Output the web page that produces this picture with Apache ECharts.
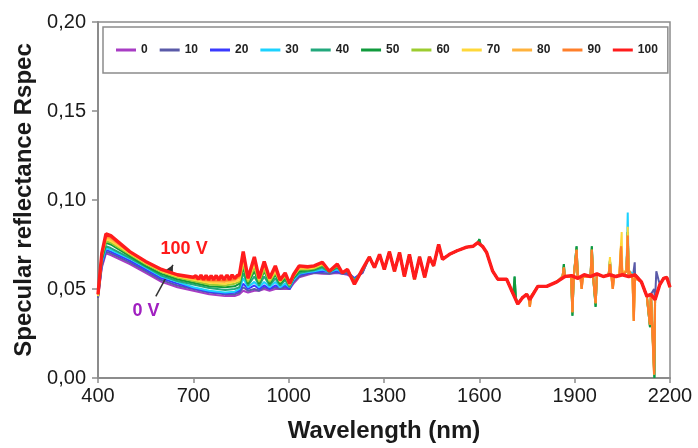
<!DOCTYPE html>
<html><head><meta charset="utf-8">
<script src="https://cdn.jsdelivr.net/npm/echarts@6/dist/echarts.min.js"></script>
<style>html,body{margin:0;padding:0;background:#fff}#c{width:698px;height:448px}</style>
</head><body><div id="c"></div>
<script>
// ---------- DATA ----------
const seriesNames = ['0','10','20','30','40','50','60','70','80','90','100'];
const xTicks = [400,700,1000,1300,1600,1900,2200];
const yTicks = ['0,00','0,05','0,10','0,15','0,20'];

// 400–1232 nm (voltage-dependent part)
const headWl = [400,412,425,440,500,550,600,650,700,750,800,830,845,857,872,892,907,923,940,958,973,989,1003,1015,1033,1060,1080,1106,1128,1153,1169,1185,1207,1232];
const head0   = [.045,.062,.070,.069,.064,.059,.054,.051,.049,.047,.046,.046,.047,.049,.048,.049,.049,.050,.049,.050,.050,.050,.050,.053,.0566,.058,.059,.0585,.0585,.059,.0585,.058,.056,.059];
const head10  = [.045,.063,.071,.070,.065,.060,.055,.052,.050,.048,.047,.047,.048,.051,.049,.050,.049,.051,.050,.051,.050,.051,.050,.054,.057,.0585,.059,.059,.0585,.0595,.0585,.0585,.056,.059];
const head20  = [.046,.064,.072,.071,.066,.061,.056,.053,.0505,.0485,.0475,.048,.049,.053,.050,.052,.050,.052,.050,.052,.051,.052,.050,.055,.058,.059,.0595,.060,.0595,.060,.059,.0595,.056,.0595];
const head30  = [.046,.065,.073,.072,.067,.062,.057,.054,.051,.049,.048,.0485,.050,.056,.051,.054,.051,.054,.051,.054,.051,.053,.051,.055,.0585,.0595,.060,.061,.0595,.061,.059,.060,.055,.060];
const head40  = [.046,.066,.074,.073,.0675,.0625,.0575,.0545,.0525,.0505,.0495,.050,.051,.059,.052,.057,.052,.057,.052,.056,.052,.055,.051,.056,.059,.060,.0605,.062,.0595,.062,.059,.060,.055,.060];
const head50  = [.046,.067,.076,.075,.0685,.063,.0585,.0555,.0535,.0515,.051,.0515,.053,.062,.053,.060,.053,.060,.053,.058,.053,.056,.052,.056,.060,.0605,.061,.063,.0598,.0625,.059,.0603,.0545,.0603];
const head60  = [.046,.068,.077,.076,.0695,.064,.0595,.0565,.0545,.0525,.052,.053,.054,.064,.054,.062,.054,.061,.054,.059,.054,.057,.052,.057,.061,.061,.0615,.0635,.0598,.063,.059,.0605,.054,.0605];
const head70  = [.046,.069,.078,.077,.070,.0645,.060,.057,.0552,.0535,.053,.054,.055,.066,.055,.064,.055,.063,.055,.060,.054,.058,.0525,.057,.0615,.0615,.062,.064,.060,.0635,.059,.0607,.0535,.0607];
const head80  = [.047,.069,.079,.078,.0705,.065,.0603,.0575,.0557,.0543,.054,.0548,.0565,.068,.0555,.066,.0555,.064,.0555,.061,.0545,.0585,.0527,.0575,.062,.062,.0625,.0645,.060,.0637,.059,.061,.053,.061];
const head90  = [.047,.070,.080,.079,.0708,.0653,.0607,.0578,.0562,.055,.0548,.0555,.0572,.0695,.056,.067,.056,.065,.056,.062,.055,.0588,.053,.058,.0625,.0622,.0628,.0648,.060,.0638,.059,.061,.0528,.061];
const head100 = [.047,.070,.081,.080,.071,.0655,.061,.058,.0566,.0555,.0555,.056,.058,.071,.056,.068,.056,.0655,.056,.063,.055,.059,.053,.058,.063,.0625,.063,.065,.060,.064,.059,.061,.0527,.061];

// small ripples of the 100 V spectrum, 700–840 nm
const ripple100 = [[708,.0575],[716,.0555],[724,.0578],[732,.0553],[740,.0576],[748,.0552],[756,.0575],[764,.0552],[772,.0576],[780,.0551],[788,.0577],[796,.0552],[806,.0578],[814,.0553],[822,.0579],[838,.0575]];

// 1254–2200 nm (common to all voltages)
const tailWl = [1254,1270,1286,1301,1317,1333,1349,1364,1380,1396,1412,1428,1443,1456,1472,1484,1506,1530,1560,1580,1595,1610,1623,1642,1658,1686,1702,1721,1735,1749,1759,1784,1812,1844,1869,1890,1910,1930,1950,1970,1990,2010,2030,2050,2070,2090,2110,2127,2140,2153,2168,2180,2190,2200];
const tailR  = [.068,.062,.0695,.061,.071,.060,.0705,.057,.0695,.0555,.068,.0566,.068,.063,.075,.0667,.0695,.0715,.0735,.074,.076,.074,.0705,.060,.0555,.0555,.049,.0415,.045,.047,.044,.0515,.0515,.054,.057,.0575,.056,.058,.057,.0585,.057,.058,.057,.058,.057,.058,.054,.046,.047,.044,.0525,.056,.0565,.051];

// noise spikes seen in individual spectra
const spikesNavy   = [[2084,.058],[2089,.065],[2094,.058],[2150,.050],[2157,.060],[2164,.055]];
const spikesCyan   = [[2063,.060],[2067,.093],[2071,.060]];
const spikesTeal   = [[1596,.076],[1600,.078],[1604,.075],[1707,.047],[1711,.057],[1715,.045],[1862,.057],[1866,.064],[1871,.057],[1889,.057],[1893,.035],[1897,.057],[1902,.057],[1906,.074],[1911,.056],[1951,.057],[1954,.074],[1958,.057],[1962,.057],[1966,.040],[1971,.058],[2007,.058],[2011,.066],[2015,.058],[2063,.060],[2067,.082],[2072,.058],[2133,.047],[2137,.0285],[2141,.047],[2146,.046],[2151,0.0],[2156,.046]];
const spikesYellow = [[2007,.058],[2011,.068],[2015,.058],[2040,.058],[2048,.082],[2055,.060],[2063,.060],[2067,.085],[2071,.060],[2082,.056],[2086,.034],[2091,.056]];
const spikesOrange = [[1755,.045],[1759,.040],[1763,.046],[1862,.057],[1866,.062],[1871,.057],[1889,.057],[1893,.037],[1897,.057],[1902,.057],[1906,.072],[1911,.056],[1918,.057],[1922,.050],[1926,.057],[1951,.057],[1954,.072],[1958,.057],[1962,.057],[1966,.042],[1971,.058],[2007,.058],[2011,.064],[2015,.058],[2017,.058],[2020,.050],[2024,.057],[2041,.058],[2046,.074],[2052,.058],[2063,.060],[2067,.080],[2072,.060],[2082,.056],[2086,.032],[2091,.056],[2133,.047],[2137,.030],[2141,.047],[2146,.046],[2150,.002],[2155,.046]];

const heads  = [head0,head10,head20,head30,head40,head50,head60,head70,head80,head90,head100];
const extras = [[],spikesNavy,[],spikesCyan,spikesTeal,spikesTeal,spikesOrange,spikesYellow,spikesOrange,spikesOrange,ripple100];

// ---------- STYLE ----------
const colors = ['#a83cc4','#5a5aa8','#3a3aff','#1cd2ff','#22a87c','#109a3c','#9ccc30','#ffd83a','#ffb23c','#ff7f2a','#ff1c1c'];
const widths = [2,2,2,2,2,2,2,2,2,2.2,3.4];
const FONT = "'Liberation Sans', Arial, sans-serif";

function build(i){
  const pts = headWl.map((w,k)=>[w, heads[i][k]])
    .concat(tailWl.map((w,k)=>[w, tailR[k]]))
    .concat(extras[i].map(p=>[p[0],p[1]]));
  pts.sort((a,b)=>a[0]-b[0]);
  return pts;
}

const series = seriesNames.map((n,i)=>{
  const s = {
    name:n, type:'line', data:build(i), showSymbol:false, symbol:'none',
    lineStyle:{color:colors[i], width:widths[i]}, itemStyle:{color:colors[i]},
    z: 2+i, animation:false
  };
  if(i===10){
    s.markLine = {silent:true, symbol:['none','arrow'], symbolSize:[7,9], animation:false,
      lineStyle:{color:'#333', width:1.5, type:'solid'}, label:{show:false},
      data:[[{coord:[582,.0458]},{coord:[636,.0635]}]]};
    s.markPoint = {silent:true, animation:false, symbol:'rect', symbolSize:1, itemStyle:{color:'rgba(0,0,0,0)'},
      data:[
        {coord:[671,.0723], label:{show:true, position:'inside', formatter:'100 V', color:'#ff1a1a', fontSize:18, fontWeight:'bold', fontFamily:FONT}},
        {coord:[551,.0375], label:{show:true, position:'inside', formatter:'0 V', color:'#a020c0', fontSize:18, fontWeight:'bold', fontFamily:FONT}}
      ]};
  }
  return s;
});

const chart = echarts.init(document.getElementById('c'), null, {renderer:'canvas'});
chart.setOption({
  animation:false,
  backgroundColor:'#fff',
  grid:{left:98, right:28, top:22, bottom:68, show:true, borderColor:'#8c8c8c', borderWidth:1.5},
  legend:{
    data:seriesNames, left:103, top:27, orient:'horizontal',
    icon:'rect', itemWidth:20, itemHeight:3, itemGap:12,
    padding:[17,10,17,13], borderColor:'#8c8c8c', borderWidth:1.5,
    textStyle:{fontSize:12, fontWeight:'bold', color:'#222', fontFamily:FONT},
    selectedMode:false
  },
  xAxis:{
    type:'value', min:xTicks[0], max:xTicks[xTicks.length-1], interval:300,
    name:'Wavelength (nm)', nameLocation:'middle', nameGap:41,
    nameTextStyle:{fontSize:24, fontWeight:'bold', color:'#1a1a1a', fontFamily:FONT},
    axisLine:{lineStyle:{color:'#8c8c8c', width:2}},
    axisTick:{show:true, length:5, lineStyle:{color:'#8c8c8c', width:1.5}},
    axisLabel:{fontSize:20, color:'#1a1a1a', margin:8, fontFamily:FONT,
      formatter:(v)=>String(xTicks[Math.round((v-xTicks[0])/300)])},
    splitLine:{show:false}
  },
  yAxis:{
    type:'value', min:0, max:0.2, interval:0.05,
    name:'Specular reflectance Rspec', nameLocation:'middle', nameGap:62, nameRotate:90,
    nameTextStyle:{fontSize:24, fontWeight:'bold', color:'#1a1a1a', fontFamily:FONT},
    axisLine:{show:true, lineStyle:{color:'#8c8c8c', width:2}},
    axisTick:{show:true, length:6, lineStyle:{color:'#8c8c8c', width:1.5}},
    axisLabel:{fontSize:20, color:'#1a1a1a', margin:12, fontFamily:FONT,
      formatter:(v)=>yTicks[Math.round(v/0.05)]},
    splitLine:{show:false}
  },
  series:series
});
</script></body></html>
